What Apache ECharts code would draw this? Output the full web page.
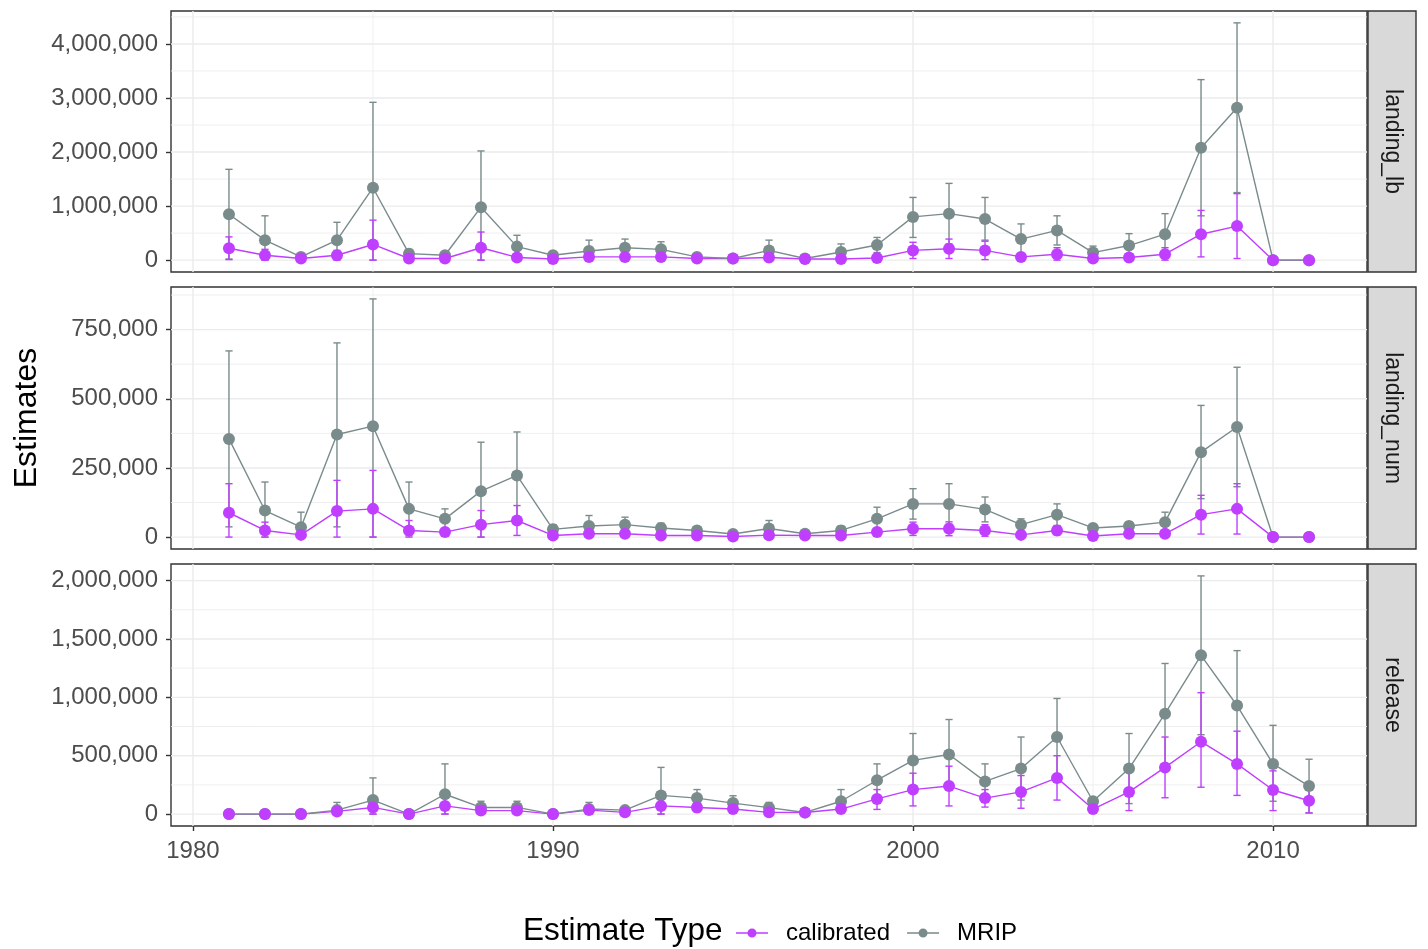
<!DOCTYPE html>
<html>
<head>
<meta charset="utf-8">
<script src="https://cdn.jsdelivr.net/npm/echarts@6/dist/echarts.min.js"></script>
<style>
  html, body { margin: 0; padding: 0; background: #ffffff; }
  #chart { width: 1428px; height: 949px; }
</style>
</head>
<body>
<div id="chart"></div>
<script>
// ---- data ----------------------------------------------------------------
const years = [1981, 1982, 1983, 1984, 1985, 1986, 1987, 1988, 1989, 1990,
               1991, 1992, 1993, 1994, 1995, 1996, 1997, 1998, 1999, 2000,
               2001, 2002, 2003, 2004, 2005, 2006, 2007, 2008, 2009, 2010, 2011];

// landing_lb
const lbMripEst = [850000, 370000, 60000, 370000, 1340000, 120000, 90000, 980000, 250000, 90000, 170000, 230000, 200000, 60000, 30000, 180000, 30000, 150000, 280000, 800000, 860000, 760000, 390000, 550000, 140000, 270000, 480000, 2080000, 2820000, 0, 0];
const lbMripLow = [20000, 0, 20000, 40000, 0, 40000, 30000, 0, 40000, 40000, 0, 70000, 60000, 30000, 10000, 0, 10000, 0, 140000, 420000, 300000, 370000, 110000, 280000, 20000, 50000, 100000, 820000, 1250000, 0, 0];
const lbMripHigh = [1680000, 820000, 100000, 700000, 2920000, 200000, 150000, 2020000, 460000, 140000, 370000, 390000, 340000, 90000, 50000, 370000, 50000, 300000, 420000, 1160000, 1420000, 1160000, 670000, 820000, 260000, 490000, 860000, 3340000, 4390000, 0, 0];
const lbCalEst = [220000, 90000, 30000, 90000, 290000, 30000, 30000, 230000, 50000, 20000, 60000, 60000, 60000, 30000, 30000, 50000, 20000, 20000, 40000, 180000, 210000, 180000, 60000, 110000, 30000, 50000, 110000, 480000, 630000, 0, 0];
const lbCalLow = [10000, 0, 10000, 0, 0, 10000, 10000, 0, 10000, 10000, 0, 10000, 20000, 10000, 20000, 10000, 10000, 0, 10000, 30000, 30000, 10000, 20000, 0, 10000, 10000, 0, 60000, 30000, 0, 0];
const lbCalHigh = [430000, 200000, 50000, 180000, 740000, 50000, 50000, 520000, 90000, 30000, 120000, 110000, 100000, 50000, 40000, 90000, 30000, 40000, 70000, 330000, 390000, 350000, 100000, 230000, 50000, 90000, 230000, 920000, 1230000, 0, 0];

// landing_num
const numMripEst = [355000, 96000, 36000, 371000, 401000, 102000, 66000, 166000, 223000, 28000, 40000, 45000, 33000, 24000, 11000, 31000, 12000, 24000, 66000, 120000, 120000, 100000, 45000, 81000, 33000, 40000, 54000, 307000, 398000, 0, 0];
const numMripLow = [37000, 0, 0, 37000, 0, 5000, 30000, 0, 66000, 11000, 2000, 18000, 16000, 10000, 2000, 2000, 6000, 8000, 24000, 65000, 47000, 55000, 24000, 42000, 21000, 25000, 18000, 139000, 182000, 0, 0];
const numMripHigh = [673000, 199000, 90000, 702000, 861000, 199000, 102000, 343000, 380000, 45000, 78000, 72000, 50000, 38000, 20000, 60000, 18000, 40000, 108000, 175000, 193000, 145000, 66000, 120000, 45000, 55000, 90000, 476000, 614000, 0, 0];
const numCalEst = [88000, 24000, 8000, 94000, 102000, 24000, 18000, 45000, 60000, 6000, 12000, 12000, 6000, 6000, 2000, 7000, 6000, 6000, 18000, 30000, 30000, 24000, 8000, 24000, 4000, 12000, 12000, 81000, 102000, 0, 0];
const numCalLow = [0, 0, 1000, 0, 0, 0, 6000, 0, 6000, 2000, 4000, 4000, 2000, 2000, 0, 2000, 3000, 3000, 8000, 6000, 5000, 3000, 3000, 8000, 1000, 4000, 2000, 11000, 11000, 0, 0];
const numCalHigh = [193000, 54000, 15000, 205000, 241000, 60000, 30000, 96000, 114000, 10000, 20000, 20000, 10000, 10000, 4000, 12000, 9000, 9000, 28000, 54000, 55000, 45000, 13000, 40000, 7000, 20000, 22000, 151000, 193000, 0, 0];

// release
const relMripEst = [0, 0, 0, 34000, 120000, 0, 170000, 57000, 57000, 0, 43000, 34000, 160000, 137000, 94000, 55000, 14000, 110000, 290000, 460000, 510000, 280000, 390000, 660000, 110000, 390000, 860000, 1360000, 930000, 430000, 240000];
const relMripLow = [0, 0, 0, 0, 0, 0, 0, 5000, 5000, 0, 0, 10000, 0, 60000, 30000, 10000, 0, 10000, 150000, 230000, 210000, 130000, 120000, 330000, 90000, 90000, 430000, 680000, 460000, 110000, 10000];
const relMripHigh = [0, 0, 0, 100000, 310000, 0, 430000, 110000, 110000, 0, 100000, 60000, 400000, 210000, 157000, 100000, 30000, 210000, 430000, 690000, 810000, 430000, 660000, 990000, 130000, 690000, 1290000, 2040000, 1400000, 760000, 470000];
const relCalEst = [0, 0, 0, 23000, 57000, 0, 70000, 30000, 30000, 0, 34000, 15000, 70000, 57000, 43000, 15000, 14000, 43000, 130000, 210000, 240000, 137000, 190000, 310000, 43000, 190000, 400000, 620000, 430000, 206000, 114000];
const relCalLow = [0, 0, 0, 0, 0, 0, 0, 10000, 10000, 0, 10000, 0, 0, 20000, 20000, 0, 10000, 20000, 40000, 70000, 70000, 60000, 50000, 120000, 30000, 30000, 140000, 230000, 160000, 30000, 10000];
const relCalHigh = [0, 0, 0, 50000, 110000, 0, 140000, 50000, 50000, 0, 60000, 30000, 140000, 90000, 70000, 30000, 20000, 70000, 210000, 350000, 410000, 210000, 330000, 500000, 60000, 360000, 660000, 1040000, 710000, 370000, 230000];

// tick positions
const xMajorTicks = [1980, 1990, 2000, 2010];
const xMinorTicks = [1985, 1995, 2005];
const lbMajorTicks = [0, 1000000, 2000000, 3000000, 4000000];
const lbMinorTicks = [500000, 1500000, 2500000, 3500000, 4500000];
const numMajorTicks = [0, 250000, 500000, 750000];
const numMinorTicks = [125000, 375000, 625000, 875000];
const relMajorTicks = [0, 500000, 1000000, 1500000, 2000000];
const relMinorTicks = [250000, 750000, 1250000, 1750000];

const facetNames = ['landing_lb', 'landing_num', 'release'];
const typeNames = ['calibrated', 'MRIP'];

// ---- styling ---------------------------------------------------------------
const FONT = '"Liberation Sans", Arial, Helvetica, sans-serif';
const COLOR = { calibrated: '#BF3EFF', MRIP: '#7A8B8B' };
const PLOT_LEFT = 171, PLOT_RIGHT = 1367;
const STRIP_W = 48;
const ERR_HALF = 0.1;   // half width of the error bar caps, in years

const panels = [
  { name: facetNames[0], top: 11,  height: 261, major: lbMajorTicks,  minor: lbMinorTicks,
    mrip: [lbMripEst, lbMripLow, lbMripHigh],    cal: [lbCalEst, lbCalLow, lbCalHigh] },
  { name: facetNames[1], top: 287, height: 262, major: numMajorTicks, minor: numMinorTicks,
    mrip: [numMripEst, numMripLow, numMripHigh], cal: [numCalEst, numCalLow, numCalHigh] },
  { name: facetNames[2], top: 564, height: 262, major: relMajorTicks, minor: relMinorTicks,
    mrip: [relMripEst, relMripLow, relMripHigh], cal: [relCalEst, relCalLow, relCalHigh] }
];

// ggplot-style 5% padding around the data extent
function padded(lo, hi) {
  const d = (hi - lo) * 0.05;
  return [lo - d, hi + d];
}
const xRange = padded(years[0] - ERR_HALF, years[years.length - 1] + ERR_HALF);

function withCommas(v) {
  return String(Math.round(v)).replace(/\B(?=(\d{3})+(?!\d))/g, ',');
}

// background grid lines: kind 0 = horizontal major, 1 = horizontal minor,
// 2 = vertical major, 3 = vertical minor
function renderGridLine(params, api) {
  const cs = params.coordSys;
  const kind = api.value(2);
  const p = api.coord([api.value(0), api.value(1)]);
  const style = { stroke: '#EBEBEB', lineWidth: (kind === 0 || kind === 2) ? 1.4 : 0.8 };
  if (kind < 2) {
    return { type: 'line', shape: { x1: cs.x, y1: p[1], x2: cs.x + cs.width, y2: p[1] }, style };
  }
  return { type: 'line', shape: { x1: p[0], y1: cs.y, x2: p[0], y2: cs.y + cs.height }, style };
}

function renderErrorBar(params, api) {
  const x = api.value(0);
  const pLo = api.coord([x, api.value(1)]);
  const pHi = api.coord([x, api.value(2)]);
  const half = api.size([ERR_HALF, 0])[0];
  const style = { stroke: api.visual('color'), lineWidth: 1.4 };
  return {
    type: 'group',
    children: [
      { type: 'line', shape: { x1: pLo[0], y1: pLo[1], x2: pHi[0], y2: pHi[1] }, style },
      { type: 'line', shape: { x1: pLo[0] - half, y1: pLo[1], x2: pLo[0] + half, y2: pLo[1] }, style },
      { type: 'line', shape: { x1: pHi[0] - half, y1: pHi[1], x2: pHi[0] + half, y2: pHi[1] }, style }
    ]
  };
}

const grids = [], xAxes = [], yAxes = [], series = [], graphics = [];

panels.forEach((p, gi) => {
  const isBottom = gi === panels.length - 1;
  const lows = p.mrip[1].concat(p.cal[1]);
  const highs = p.mrip[2].concat(p.cal[2]);
  const yRange = padded(Math.min(...lows), Math.max(...highs));

  grids.push({
    left: PLOT_LEFT, width: PLOT_RIGHT - PLOT_LEFT, top: p.top, height: p.height,
    show: true, backgroundColor: '#ffffff', borderColor: '#333333', borderWidth: 1.4
  });

  xAxes.push({
    type: 'value', gridIndex: gi, min: xRange[0], max: xRange[1],
    axisLine: { show: false, onZero: false },
    axisTick: { show: isBottom, customValues: xMajorTicks, length: 5,
                lineStyle: { color: '#333333', width: 1.4 } },
    axisLabel: { show: isBottom, customValues: xMajorTicks, margin: 13,
                 fontSize: 24, color: '#4D4D4D', fontFamily: FONT,
                 formatter: v => String(v) },
    splitLine: { show: false }
  });

  yAxes.push({
    type: 'value', gridIndex: gi, min: yRange[0], max: yRange[1],
    axisLine: { show: false, onZero: false },
    axisTick: { show: true, customValues: p.major, length: 5,
                lineStyle: { color: '#333333', width: 1.4 } },
    axisLabel: { show: true, customValues: p.major, margin: 13,
                 fontSize: 24, color: '#4D4D4D', fontFamily: FONT,
                 formatter: withCommas },
    splitLine: { show: false }
  });

  // grid lines
  const gridData = [];
  p.major.forEach(v => gridData.push([xMajorTicks[1], v, 0]));
  p.minor.forEach(v => gridData.push([xMajorTicks[1], v, 1]));
  xMajorTicks.forEach(v => gridData.push([v, 0, 2]));
  xMinorTicks.forEach(v => gridData.push([v, 0, 3]));
  series.push({
    type: 'custom', xAxisIndex: gi, yAxisIndex: gi, z: 1, silent: true,
    renderItem: renderGridLine, encode: { x: 0, y: 1 }, data: gridData
  });

  const sets = { MRIP: p.mrip, calibrated: p.cal };

  // error bars
  ['MRIP', 'calibrated'].forEach(t => {
    const s = sets[t];
    series.push({
      name: t, type: 'custom', xAxisIndex: gi, yAxisIndex: gi, z: 2,
      itemStyle: { color: COLOR[t] },
      renderItem: renderErrorBar, encode: { x: 0, y: [1, 2] },
      data: years.map((yr, i) => [yr, s[1][i], s[2][i]])
    });
  });

  // connecting lines
  ['calibrated', 'MRIP'].forEach(t => {
    series.push({
      name: t, type: 'line', xAxisIndex: gi, yAxisIndex: gi, z: 2,
      showSymbol: false, symbol: 'none',
      lineStyle: { color: COLOR[t], width: 1.4 },
      itemStyle: { color: COLOR[t] },
      data: years.map((yr, i) => [yr, sets[t][0][i]])
    });
  });

  // points
  ['MRIP', 'calibrated'].forEach(t => {
    series.push({
      name: t, type: 'scatter', xAxisIndex: gi, yAxisIndex: gi, z: 2,
      symbol: 'circle', symbolSize: 12,
      itemStyle: { color: COLOR[t], opacity: 1 },
      data: years.map((yr, i) => [yr, sets[t][0][i]])
    });
  });

  // facet strip on the right
  graphics.push({
    type: 'rect', z: 10,
    shape: { x: PLOT_RIGHT + 1, y: p.top, width: STRIP_W, height: p.height },
    style: { fill: '#D9D9D9', stroke: '#333333', lineWidth: 1.4 }
  });
  graphics.push({
    type: 'text', z: 11,
    x: PLOT_RIGHT + 1 + STRIP_W / 2, y: p.top + p.height / 2, rotation: -Math.PI / 2,
    style: { text: p.name, fontSize: 23, fontFamily: FONT, fill: '#1A1A1A',
             textAlign: 'center', textVerticalAlign: 'middle' }
  });
});

// axis title
graphics.push({
  type: 'text', z: 11, x: 27, y: 418, rotation: Math.PI / 2,
  style: { text: 'Estimates', fontSize: 32, fontFamily: FONT, fill: '#000000',
           textAlign: 'center', textVerticalAlign: 'middle' }
});
// legend title
graphics.push({
  type: 'text', z: 11, x: 523, y: 931,
  style: { text: 'Estimate Type', fontSize: 31.5, fontFamily: FONT, fill: '#000000',
           textAlign: 'left', textVerticalAlign: 'middle' }
});

const KEY_ICON = 'path://M0,3.8H32V5.2H0Z M11.5,4.5A4.5,4.5 0 1,1 20.5,4.5A4.5,4.5 0 1,1 11.5,4.5Z';

const option = {
  animation: false,
  backgroundColor: '#ffffff',
  grid: grids,
  xAxis: xAxes,
  yAxis: yAxes,
  series: series,
  graphic: graphics,
  legend: {
    left: 731, top: 916, orient: 'horizontal',
    itemWidth: 32, itemHeight: 9, itemGap: 17, selectedMode: false,
    textStyle: { fontSize: 24, color: '#000000', fontFamily: FONT, padding: [0, 0, 0, 13] },
    data: typeNames.map(t => ({ name: t, icon: KEY_ICON, itemStyle: { color: COLOR[t] } }))
  }
};

const chart = echarts.init(document.getElementById('chart'), null, { renderer: 'canvas' });
chart.setOption(option);
</script>
</body>
</html>
